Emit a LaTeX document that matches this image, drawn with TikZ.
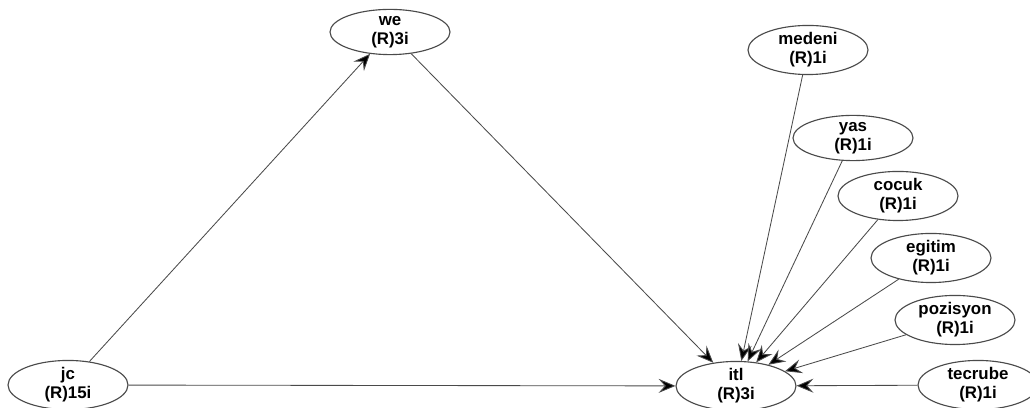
\documentclass[tikz,border=0pt]{standalone}
\usepackage{fontspec}
\setmainfont{Liberation Sans}
\usetikzlibrary{shapes.geometric,arrows.meta}
\definecolor{edgegray}{HTML}{4A4A4A}
\begin{document}
\begin{tikzpicture}[
        construct/.style={ellipse, draw=edgegray, thick, fill=white, inner sep=0pt,
            minimum width=3cm, minimum height=1.13cm, align=center,
            font=\fontsize{12}{13.5}\selectfont\bfseries},
        effect/.style={draw=edgegray, line width=0.6pt,
            -{Stealth[length=12pt, width=10pt, inset=4.5pt, fill=black]}},
    ]
        \useasboundingbox (0,0) rectangle (25.75,10.2);

        \node[construct] (we) at (9.75,9.4) {we\\(R)3i};
        \node[construct] (jc) at (1.7,0.575) {jc\\(R)15i};
        \node[construct] (itl) at (18.4,0.55) {itl\\(R)3i};

        \node[construct] (medeni) at (20.2,8.95) {medeni\\(R)1i};
        \node[construct] (yas) at (21.325,6.75) {yas\\(R)1i};
        \node[construct] (cocuk) at (22.45,5.3) {cocuk\\(R)1i};
        \node[construct] (egitim) at (23.275,3.75) {egitim\\(R)1i};
        \node[construct] (pozisyon) at (23.875,2.2) {pozisyon\\(R)1i};
        \node[construct] (tecrube) at (24.45,0.575) {tecrube\\(R)1i};

        \draw[effect] (jc) -- (we);
        \draw[effect] (we) -- (itl);
        \draw[effect] (jc) -- (itl);
        \foreach \src in {medeni, yas, cocuk, egitim, pozisyon, tecrube}
            \draw[effect] (\src) -- (itl);
    \end{tikzpicture}
\end{document}
